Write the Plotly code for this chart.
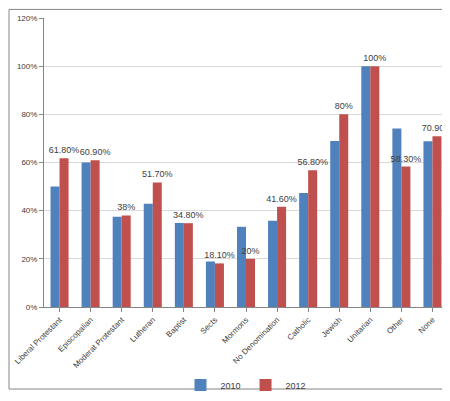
import plotly.graph_objects as go

categories = ["Liberal Protestant", "Episcopalian", "Moderat Protestant", "Lutheran",
              "Baptist", "Sects", "Mormons", "No Denomination", "Catholic", "Jewish",
              "Unitarian", "Other", "None"]
vals_2010 = [50, 60, 37.5, 42.9, 34.9, 18.9, 33.3, 35.8, 47.3, 68.9, 100, 74.1, 68.8]
vals_2012 = [61.8, 60.9, 38, 51.7, 34.8, 18.1, 20, 41.6, 56.8, 80, 100, 58.3, 70.9]
labels_2012 = ["61.80%", "60.90%", "38%", "51.70%", "34.80%", "18.10%", "20%",
               "41.60%", "56.80%", "80%", "100%", "58.30%", "70.90%"]

fig = go.Figure()
fig.add_trace(go.Bar(x=categories, y=vals_2010, name="2010",
                     marker=dict(color="#4f81bd", line=dict(width=0))))
fig.add_trace(go.Bar(x=categories, y=vals_2012, name="2012", text=labels_2012,
                     textposition="outside", cliponaxis=False,
                     textfont=dict(size=9, color="#404040"),
                     marker=dict(color="#c0504d", line=dict(width=0))))

# plot area 404 x 303 px
fig.update_layout(
    width=450, height=401, barmode="group", bargap=0.42, bargroupgap=0,
    margin=dict(l=36, r=10, t=10, b=88),
    paper_bgcolor="white", plot_bgcolor="white",
    font=dict(family="Liberation Sans, Arial", size=8, color="#404040"),
    showlegend=True,
    legend=dict(orientation="h", x=0.5, xanchor="center", y=-0.22, yanchor="top",
                font=dict(size=9), bgcolor="rgba(0,0,0,0)", itemwidth=30),
    uniformtext=dict(minsize=8, mode="show"),
    shapes=[dict(type="rect", xref="paper", yref="paper", x0=-35/404, x1=1 + 9/404,
                 y0=-86/303, y1=1 + 9/303, line=dict(color="#868686", width=1))],
)
fig.update_xaxes(tickangle=-45, showline=True, linecolor="#868686", automargin=False,
                 ticks="outside", ticklen=4, tickcolor="#868686")
fig.update_yaxes(range=[0, 120], dtick=20, ticksuffix="%", gridcolor="#d9d9d9",
                 showline=True, linecolor="#868686", zeroline=False, automargin=False,
                 ticks="outside", ticklen=4, tickcolor="#868686")

fig.write_html("out.html")
